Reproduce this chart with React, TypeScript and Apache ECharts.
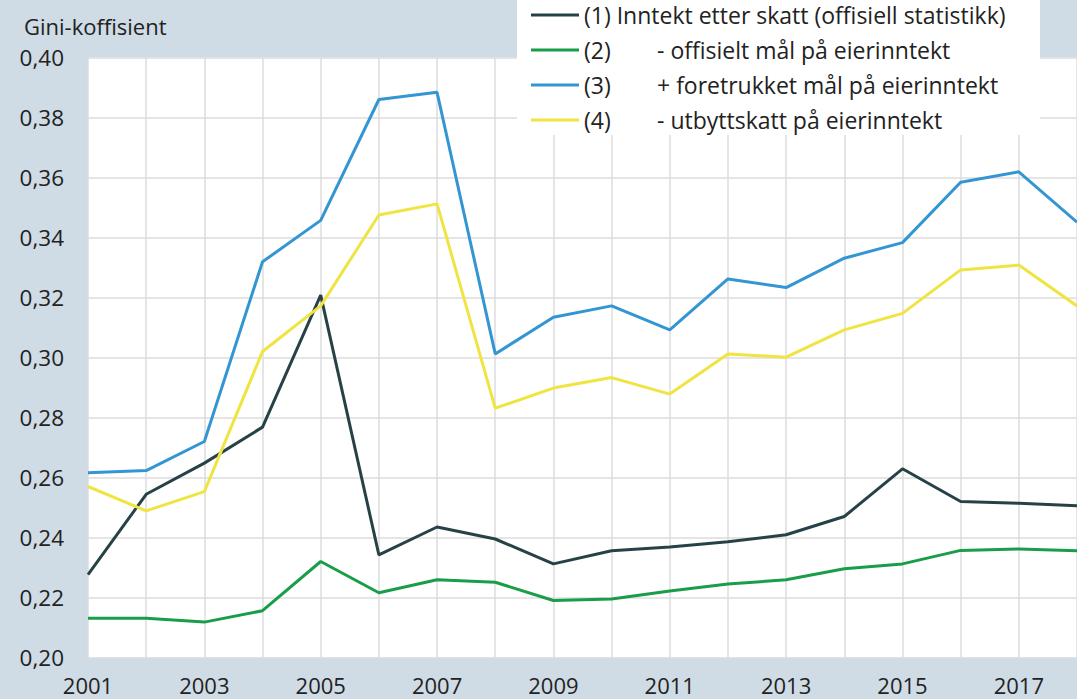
import React, { useEffect, useRef } from "react";
import * as echarts from "echarts";

const years = ["2001","2002","2003","2004","2005","2006","2007","2008","2009","2010","2011","2012","2013","2014","2015","2016","2017","2018"];

const seriesNames = [
  "(1) Inntekt etter skatt (offisiell statistikk)",
  "(2) - offisielt mål på eierinntekt",
  "(3) + foretrukket mål på eierinntekt",
  "(4) - utbyttskatt på eierinntekt",
];

const inntektEtterSkatt = [0.2276, 0.2544, 0.2648, 0.2768, 0.3208, 0.2342, 0.2435, 0.2395, 0.2312, 0.2356, 0.2368, 0.2386, 0.2409, 0.2470, 0.2629, 0.2520, 0.2514, 0.2506];
const offisieltMaal = [0.2131, 0.2131, 0.2118, 0.2156, 0.2320, 0.2216, 0.2259, 0.2251, 0.2190, 0.2195, 0.2222, 0.2245, 0.2259, 0.2296, 0.2312, 0.2357, 0.2362, 0.2356];
const foretrukketMaal = [0.2616, 0.2623, 0.2720, 0.3319, 0.3457, 0.3860, 0.3884, 0.3012, 0.3134, 0.3172, 0.3092, 0.3262, 0.3233, 0.3331, 0.3383, 0.3584, 0.3619, 0.3451];
const utbytteskatt = [0.2570, 0.2489, 0.2553, 0.3020, 0.3172, 0.3475, 0.3512, 0.2831, 0.2898, 0.2933, 0.2878, 0.3012, 0.3001, 0.3092, 0.3147, 0.3292, 0.3308, 0.3172];

const colors = ["#274247", "#1a9d49", "#3396d3", "#f0e442"];
const FONT = "Open Sans";

export default function App() {
  const ref = useRef<HTMLDivElement>(null);
  useEffect(() => {
    if (!ref.current) return;
    const chart = echarts.init(ref.current, undefined, { renderer: "svg" });
    const data = [inntektEtterSkatt, offisieltMaal, foretrukketMaal, utbytteskatt];
    chart.setOption({
      animation: false,
      backgroundColor: "#cfdbe5",
      textStyle: { fontFamily: FONT },
      title: {
        text: "Gini-koffisient",
        left: 24,
        top: 15,
        padding: 0,
        textStyle: { fontSize: 22, fontWeight: "normal", color: "#222", fontFamily: FONT },
      },
      graphic: [
        { type: "rect", shape: { x: 517, y: 0, width: 523, height: 135 }, style: { fill: "#ffffff" }, z: 3 },
      ],
      legend: {
        orient: "vertical",
        left: 531,
        top: 3,
        padding: 0,
        itemWidth: 48,
        itemHeight: 3,
        itemGap: 11,
        icon: "rect",
        data: seriesNames,
        formatter: (name: string) => {
          const idx = seriesNames.indexOf(name);
          const num = `(${idx + 1})`;
          if (idx === 0) return `{a|${num}} {b|Inntekt etter skatt (offisiell statistikk)}`;
          const rest = name.substring(4);
          return `{c|${num}}{b|${rest}}`;
        },
        textStyle: {
          fontSize: 23,
          color: "#222",
          fontFamily: FONT,
          lineHeight: 24,
          rich: {
            a: { fontSize: 23, color: "#222", fontFamily: FONT, lineHeight: 24 },
            b: { fontSize: 23, color: "#222", fontFamily: FONT, lineHeight: 24 },
            c: { fontSize: 23, color: "#222", fontFamily: FONT, lineHeight: 24, width: 73 },
          },
        },
      },
      grid: {
        left: 88,
        right: -2.5,
        top: 57.5,
        bottom: 41.5,
        show: true,
        backgroundColor: "#ffffff",
        borderWidth: 0,
        containLabel: false,
      },
      xAxis: {
        type: "category",
        data: years,
        boundaryGap: false,
        axisLine: { show: false },
        axisTick: { show: false, interval: 0 },
        axisLabel: { interval: 1, fontSize: 22, lineHeight: 22, color: "#222", fontFamily: FONT, margin: 16 },
        splitLine: { show: true, interval: 0, lineStyle: { color: "#dcdcdc", width: 1.5 } },
      },
      yAxis: {
        type: "value",
        min: 0.2,
        max: 0.4,
        interval: 0.02,
        axisLine: { show: false },
        axisTick: { show: false },
        axisLabel: {
          fontSize: 22.5,
          color: "#222",
          fontFamily: FONT,
          margin: 24,
          formatter: (v: number) => v.toFixed(2).replace(".", ","),
        },
        splitLine: { show: true, lineStyle: { color: "#dcdcdc", width: 1.5 } },
      },
      series: seriesNames.map((n, i) => ({
        name: n,
        type: "line",
        data: data[i],
        showSymbol: false,
        symbol: "none",
        color: colors[i],
        lineStyle: { color: colors[i], width: 3 },
        z: 2,
      })),
    });
    return () => chart.dispose();
  }, []);
  return (
    <div
      ref={ref}
      style={{ position: "fixed", left: 0, top: 0, width: 1077, height: 699 }}
    />
  );
}
